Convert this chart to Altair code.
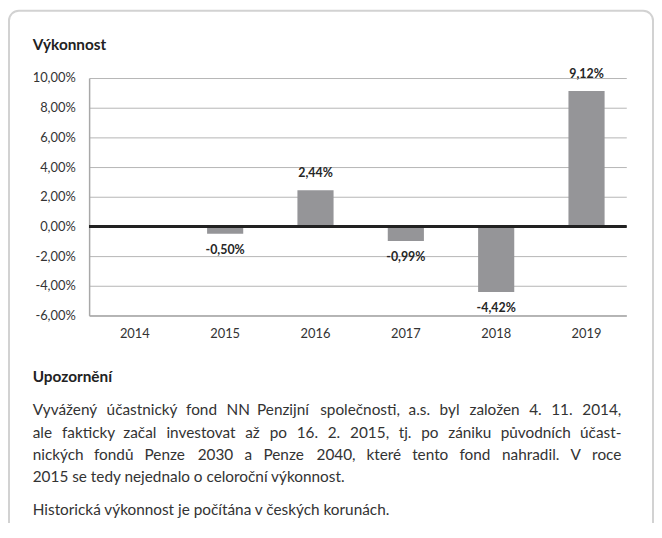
import altair as alt
import pandas as pd

# ---- data ----
years = ["2014", "2015", "2016", "2017", "2018", "2019"]
perf_years = ["2015", "2016", "2017", "2018", "2019"]
perf_values = [-0.50, 2.44, -0.99, -4.42, 9.12]
y_ticks = [-6, -4, -2, 0, 2, 4, 6, 8, 10]

title_text = "Výkonnost"
note_title = "Upozornění"
note_lines = [
    "Vyvážený účastnický fond NN Penzijní společnosti, a.s. byl založen 4. 11. 2014,",
    "ale fakticky začal investovat až po 16. 2. 2015, tj. po zániku původních účast-",
    "nických fondů Penze 2030 a Penze 2040, které tento fond nahradil. V roce",
    "2015 se tedy nejednalo o celoroční výkonnost.",
]
note_footer = "Historická výkonnost je počítána v českých korunách."

FONT = "Lato"
TXT_FS = 15.5
LEFT = -57          # text left edge, relative to plot origin
RIGHT = 538         # justified right edge, relative to plot origin
BODY_Y0 = 336
LINE_H = 22.5

# rough glyph widths (em) used only to spread words of justified lines
_base = {
    " ": 0.26, "a": 0.51, "b": 0.56, "c": 0.46, "d": 0.56, "e": 0.52, "f": 0.33, "g": 0.51,
    "h": 0.56, "i": 0.24, "j": 0.24, "k": 0.49, "l": 0.24, "m": 0.84, "n": 0.56, "o": 0.56,
    "p": 0.56, "q": 0.56, "r": 0.36, "s": 0.43, "t": 0.35, "u": 0.56, "v": 0.49, "w": 0.76,
    "x": 0.48, "y": 0.49, "z": 0.45, ".": 0.23, ",": 0.23, "-": 0.34, "%": 0.78,
}
_acc = {"á": "a", "č": "c", "é": "e", "ě": "e", "í": "i", "ň": "n", "ř": "r", "š": "s",
        "ť": "t", "ú": "u", "ů": "u", "ý": "y", "ž": "z"}


def _cw(ch):
    if ch.isdigit():
        return 0.58
    ch = _acc.get(ch, ch)
    if ch in _base:
        return _base[ch]
    if ch.isupper():
        return 0.68
    return 0.52


def _ww(word):
    return sum(_cw(c) for c in word) * TXT_FS


# word placement for the three justified lines
left_words, right_words = [], []
for li, line in enumerate(note_lines[:3]):
    words = line.split(" ")
    widths = [_ww(w) for w in words]
    gap = (RIGHT - LEFT - sum(widths)) / (len(words) - 1)
    y = BODY_Y0 + li * LINE_H
    half = len(words) / 2
    x = LEFT
    for i in range(len(words)):
        if i < half:
            left_words.append({"w": words[i], "px": x, "py": y})
        x += widths[i] + gap
    xr = RIGHT
    for i in range(len(words) - 1, -1, -1):
        if i >= half:
            right_words.append({"w": words[i], "px": xr, "py": y})
        xr -= widths[i] + gap
lw = pd.DataFrame(left_words)
rw = pd.DataFrame(right_words)

df = pd.DataFrame({"year": perf_years, "value": perf_values})
df["label"] = [f"{v:.2f}".replace(".", ",") + "%" for v in perf_values]

x_scale = alt.Scale(domain=years, paddingInner=0.6, paddingOuter=0.273, align=0.56)
x_axis = alt.Axis(title=None, labelAngle=0, ticks=False, domainColor="#a8a8a8",
                  domainWidth=1.5, labelPadding=12, labelFontSize=13,
                  labelColor="#333333", labelFont=FONT, grid=False)
y_scale = alt.Scale(domain=[-6, 10], nice=False, zero=False)
y_axis = alt.Axis(title=None, values=y_ticks, ticks=False, grid=True, gridColor="#b5b5b5",
                  gridWidth=1, domainColor="#a8a8a8", domainWidth=1.5, labelPadding=14,
                  labelFontSize=13, labelColor="#333333", labelFont=FONT, labelOverlap=False,
                  labelExpr="(datum.value < 0 ? '-' : '') + replace(format(abs(datum.value), '.2f'), '.', ',') + '%'")

one = pd.DataFrame({"k": [0]})

border = alt.Chart(one).mark_rect(
    fillOpacity=0, stroke="#d2d2d2", strokeWidth=2, cornerRadius=10
).encode(x=alt.value(-81), x2=alt.value(570), y=alt.value(-68), y2=alt.value(600))

bars = alt.Chart(df).mark_bar(color="#959598").encode(
    x=alt.X("year:O", scale=x_scale, axis=x_axis),
    y=alt.Y("value:Q", scale=y_scale, axis=y_axis),
)

zero = alt.Chart(df).transform_calculate(z="0").mark_rule(
    color="#222222", strokeWidth=2.5
).encode(y=alt.Y("z:Q", scale=y_scale, axis=y_axis))

pos_labels = alt.Chart(df).transform_filter("datum.value >= 0").mark_text(
    baseline="bottom", dy=-10, font=FONT, fontSize=12.5, fontWeight="bold", color="#262626"
).encode(x=alt.X("year:O", scale=x_scale, axis=x_axis),
         y=alt.Y("value:Q", scale=y_scale, axis=y_axis), text="label:N")

neg_labels = alt.Chart(df).transform_filter("datum.value < 0").mark_text(
    baseline="top", dy=10, font=FONT, fontSize=12.5, fontWeight="bold", color="#262626"
).encode(x=alt.X("year:O", scale=x_scale, axis=x_axis),
         y=alt.Y("value:Q", scale=y_scale, axis=y_axis), text="label:N")

title = alt.Chart(one).mark_text(
    align="left", baseline="middle", font=FONT, fontSize=15.5, fontWeight="bold", color="#222222"
).encode(x=alt.value(LEFT), y=alt.value(-33), text=alt.value(title_text))

note_head = alt.Chart(one).mark_text(
    align="left", baseline="middle", font=FONT, fontSize=TXT_FS, fontWeight="bold", color="#222222"
).encode(x=alt.value(LEFT), y=alt.value(302), text=alt.value(note_title))

words_left = alt.Chart(lw).mark_text(
    align="left", baseline="middle", font=FONT, fontSize=TXT_FS, color="#333333"
).encode(x=alt.X("px:Q", scale=None), y=alt.Y("py:Q", scale=None), text="w:N")

words_right = alt.Chart(rw).mark_text(
    align="right", baseline="middle", font=FONT, fontSize=TXT_FS, color="#333333"
).encode(x=alt.X("px:Q", scale=None), y=alt.Y("py:Q", scale=None), text="w:N")

note_last = alt.Chart(one).mark_text(
    align="left", baseline="middle", font=FONT, fontSize=TXT_FS, color="#333333"
).encode(x=alt.value(LEFT), y=alt.value(BODY_Y0 + 3 * LINE_H), text=alt.value(note_lines[3]))

note_foot = alt.Chart(one).mark_text(
    align="left", baseline="middle", font=FONT, fontSize=TXT_FS, color="#333333"
).encode(x=alt.value(LEFT), y=alt.value(437), text=alt.value(note_footer))

chart = alt.layer(
    border, bars, zero, pos_labels, neg_labels, title, note_head,
    words_left, words_right, note_last, note_foot
).properties(
    width=543, height=240,
    autosize=alt.AutoSizeParams(type="none"),
    padding={"left": 82, "top": 68, "right": 28, "bottom": 207},
    background="white",
).configure_view(stroke=None).configure_axis(labelOverlap=False)

chart.save("out.html", embed_options={"renderer": "svg", "actions": False})
